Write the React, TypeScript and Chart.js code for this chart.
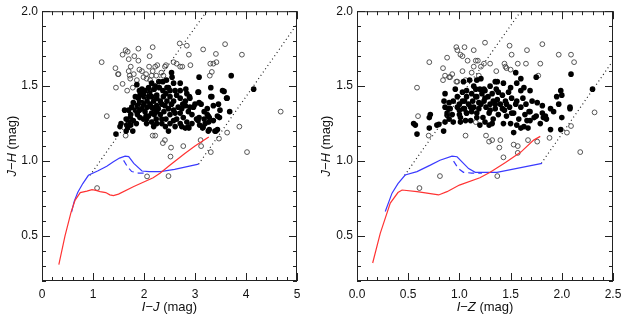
import React, { useEffect, useRef } from 'react';
import { Chart, registerables } from 'chart.js';
Chart.register(...registerables);

type P = [number, number];
type Seg = [string, boolean];

// ---------- Left panel: I-J vs J-H ----------
const ijOpen: P[] = [
  [1.17,1.66],[1.44,1.62],[1.45,1.49],[1.50,1.58],[1.58,1.71],[1.64,1.74],[1.68,1.73],[1.70,1.68],[1.67,1.47],[1.70,1.60],
  [1.72,1.57],[1.74,1.63],[1.81,1.70],[1.78,1.49],[1.80,1.58],[1.86,1.54],[1.89,1.75],[1.89,1.67],[1.91,1.61],[1.96,1.60],
  [1.99,1.56],[2.04,1.58],[2.05,1.55],[2.10,1.63],[2.11,1.70],[2.15,1.57],[2.17,1.76],[2.17,1.60],[2.22,1.63],[2.24,1.57],
  [2.26,1.64],[2.34,1.59],[2.38,1.57],[2.41,1.63],[2.43,1.64],[2.58,1.66],[2.64,1.65],[2.70,1.785],[2.84,1.77],[2.88,1.71],
  [2.91,1.64],[2.71,1.63],[2.75,1.63],[3.16,1.745],[3.30,1.65],[3.36,1.65],[3.42,1.66],[3.33,1.595],[3.29,1.57],[3.41,1.715],
  [3.59,1.78],[3.92,1.71],[1.58,1.515],[1.73,1.55],[1.49,1.58],[2.12,1.54],
  [1.27,1.30],[1.64,1.17],[1.08,0.82],[2.06,0.898],[2.48,0.90],[2.52,1.03],[2.53,1.09],[2.41,1.14],[2.37,1.12],[2.17,1.17],
  [2.22,1.17],[2.77,1.10],[3.11,1.14],[3.12,1.10],[3.31,1.06],[3.47,1.15],[3.63,1.19],[3.87,1.23],[4.02,1.06],[4.68,1.33],
  [2.18,1.26]
];
const ijFilled: P[] = [
  [1.45,1.18],[1.53,1.23],[1.55,1.25],[1.65,1.20],[1.66,1.24],[1.68,1.22],[1.74,1.24],[1.78,1.20],[1.62,1.34],[1.65,1.28],
  [1.74,1.31],[1.85,1.25],[1.86,1.51],[1.91,1.47],[1.96,1.48],[1.99,1.45],[2.00,1.43],[2.06,1.40],[2.11,1.45],[2.15,1.43],
  [2.20,1.48],[2.25,1.44],[2.29,1.53],[2.37,1.53],[2.44,1.54],[2.54,1.59],[2.55,1.56],[2.58,1.52],[2.45,1.49],[2.61,1.47],
  [2.71,1.47],[2.82,1.48],[2.89,1.43],[2.81,1.40],[3.08,1.56],[3.07,1.46],[3.31,1.49],[3.31,1.43],[3.54,1.47],[3.63,1.42],
  [3.71,1.57],[4.15,1.48],[3.36,1.37],[3.46,1.38],[3.24,1.35],[3.68,1.33],[3.08,1.39],[3.12,1.38],[2.90,1.36],[2.97,1.36],
  [2.87,1.33],[2.94,1.31],[2.77,1.29],[2.84,1.26],[2.94,1.25],[3.03,1.28],[3.08,1.29],[3.18,1.28],[3.24,1.31],[3.28,1.29],
  [3.27,1.26],[3.36,1.27],[3.44,1.30],[3.48,1.29],[3.28,1.21],[3.15,1.22],[3.41,1.20],[3.44,1.21],[2.88,1.22],[2.71,1.25],
  [2.61,1.23],[2.51,1.25],[2.42,1.23],[2.35,1.25],[2.24,1.28],[2.15,1.26],[2.05,1.25],[1.99,1.28],[1.92,1.29],[1.87,1.31],
  [1.83,1.34],[1.76,1.36],[1.70,1.34],[1.79,1.39],[1.87,1.37],[1.96,1.39],[2.06,1.36],[2.12,1.38],[2.19,1.35],[2.25,1.37],
  [2.32,1.40],[2.38,1.43],[2.45,1.40],[2.51,1.43],[2.58,1.40],[2.64,1.44],[2.71,1.42],[2.76,1.38],[2.67,1.36],[2.58,1.34],
  [2.48,1.35],[2.39,1.33],[2.32,1.31],[2.25,1.33],[2.15,1.32],[2.09,1.30],[2.02,1.33],[1.96,1.35],[1.89,1.42],[1.83,1.43],
  [1.92,1.44],[2.02,1.47],[2.09,1.49],[2.15,1.52],[2.22,1.50],[2.30,1.49],[2.37,1.47],[2.43,1.45],[2.51,1.47],[2.35,1.38],
  [2.41,1.37],[2.54,1.38],[2.61,1.32],[2.71,1.32],[2.51,1.31],[2.43,1.28],[2.35,1.28],[2.05,1.28],[1.79,1.27],[1.73,1.29],
  [1.70,1.26],[2.25,1.25],[2.19,1.23],[2.74,1.23],[2.81,1.22],[2.58,1.27],[2.64,1.28],[2.74,1.35],[2.81,1.37],[2.84,1.45],
  [1.99,1.38],[2.09,1.43],[2.19,1.40],[2.25,1.42],[2.28,1.35],[2.15,1.36],[2.04,1.30],[1.91,1.34],[2.20,1.31],[2.48,1.20],
  [1.91,1.39],[2.12,1.47],[2.48,1.49],[2.71,1.52],[3.00,1.38],[3.18,1.33],[3.20,1.25],[3.09,1.24],[3.49,1.34],[3.33,1.43],
  [3.62,1.42],[2.90,1.42],[3.06,1.46],[3.57,1.465],[3.26,1.30],[3.39,1.20],[3.26,1.20],[3.16,1.228],[3.06,1.27],[2.87,1.228]
];
const ijRed: P[] = [
  [0.33,0.31],[0.45,0.50],[0.57,0.66],[0.65,0.74],[0.75,0.79],[0.88,0.80],[0.98,0.81],[1.06,0.805],[1.14,0.796],[1.25,0.79],
  [1.33,0.775],[1.40,0.77],[1.50,0.78],[1.80,0.83],[2.18,0.889],[2.32,0.92],[2.50,0.97],[2.80,1.05],[3.00,1.10],[3.27,1.16]
];
const ijBlue: P[] = [
  [0.58,0.66],[0.63,0.73],[0.70,0.79],[0.80,0.85],[0.91,0.905],[1.10,0.935],[1.27,0.965],[1.40,0.995],[1.52,1.02],[1.63,1.033],
  [1.70,1.03],[1.80,0.985],[1.96,0.934],[2.10,0.93],[2.32,0.93],[2.60,0.945],[3.07,0.98]
];
const ijBlueDash: P[] = [[1.60,1.005],[1.68,0.96],[1.76,0.93],[1.89,0.92],[2.05,0.92]];
const ijDotA: P[] = [[0.94,0.905],[3.23,2.0]];
const ijDotB: P[] = [[3.07,0.98],[5.0,1.914]];
const ijXTicks = [0, 1, 2, 3, 4, 5];

// ---------- Right panel: I-Z vs J-H ----------
const izOpen: P[] = [
  [0.586,1.49],[0.596,1.30],[0.61,0.82],[0.706,1.66],[0.70,1.17],[0.81,0.90],[0.84,1.62],[0.84,1.54],[0.86,1.57],[0.90,1.56],
  [0.88,1.69],[0.91,1.56],[0.93,1.58],[0.97,1.76],[0.98,1.74],[0.97,1.53],[0.98,1.53],[1.01,1.71],[1.03,1.70],[1.03,1.60],
  [1.05,1.76],[1.06,1.54],[1.08,1.67],[1.12,1.59],[1.14,1.63],[1.14,1.74],[1.16,1.67],[1.18,1.67],[1.19,1.57],[1.21,1.63],
  [1.24,1.65],[1.25,1.79],[1.30,1.65],[1.36,1.60],[1.44,1.65],[1.45,1.63],[1.46,1.62],[1.49,1.77],[1.51,1.71],[1.50,1.61],
  [1.57,1.65],[1.66,1.74],[1.65,1.65],[1.77,1.57],[1.79,1.65],[1.81,1.78],[1.97,1.71],[2.09,1.71],[2.12,1.66],
  [1.06,1.17],[1.26,1.17],[1.29,1.13],[1.32,1.14],[1.39,1.09],[1.40,1.14],[1.43,1.025],[1.53,1.11],[1.57,1.10],[1.57,1.055],
  [1.67,1.14],[1.76,1.13],[1.88,1.155],[2.05,1.19],[2.09,1.234],[2.18,1.06],[2.32,1.325],[1.37,0.90],[1.16,1.26]
];
const izFilled: P[] = [
  [0.553,1.25],[0.57,1.24],[0.586,1.18],[0.706,1.22],[0.706,1.29],[0.716,1.31],[0.78,1.24],[0.80,1.245],[0.846,1.20],[0.86,1.26],
  [0.88,1.305],[0.895,1.35],[1.01,1.26],[0.86,1.45],[0.85,1.40],[0.86,1.36],[0.88,1.32],[0.90,1.39],[0.91,1.35],[0.93,1.31],
  [0.94,1.40],[0.96,1.48],[0.98,1.43],[0.98,1.36],[1.01,1.29],[1.03,1.40],[1.03,1.46],[1.04,1.53],[1.05,1.35],[1.07,1.43],
  [1.07,1.47],[1.09,1.38],[1.10,1.54],[1.11,1.27],[1.12,1.45],[1.13,1.40],[1.14,1.36],[1.16,1.48],[1.17,1.32],[1.17,1.43],
  [1.19,1.39],[1.19,1.35],[1.20,1.48],[1.21,1.55],[1.22,1.45],[1.23,1.29],[1.24,1.40],[1.25,1.47],[1.26,1.36],[1.28,1.43],
  [1.29,1.32],[1.30,1.38],[1.32,1.45],[1.33,1.28],[1.33,1.40],[1.35,1.35],[1.36,1.48],[1.37,1.41],[1.37,1.53],[1.38,1.31],
  [1.40,1.38],[1.42,1.44],[1.43,1.25],[1.44,1.34],[1.45,1.40],[1.46,1.30],[1.48,1.46],[1.49,1.36],[1.50,1.25],[1.51,1.42],
  [1.53,1.32],[1.55,1.59],[1.55,1.38],[1.56,1.24],[1.58,1.28],[1.60,1.55],[1.60,1.47],[1.60,1.36],[1.62,1.42],[1.63,1.23],
  [1.64,1.31],[1.65,1.38],[1.67,1.22],[1.68,1.33],[1.69,1.27],[1.71,1.40],[1.73,1.29],[1.75,1.56],[1.76,1.39],[1.75,1.30],
  [1.79,1.25],[1.81,1.37],[1.82,1.29],[1.84,1.30],[1.85,1.28],[1.89,1.21],[1.89,1.35],[1.92,1.33],[1.95,1.43],[1.97,1.38],
  [1.99,1.47],[2.00,1.44],[1.99,1.21],[2.00,1.29],[2.08,1.36],[2.08,1.35],[2.09,1.58],[2.30,1.48],[1.17,1.29],[1.25,1.26],
  [1.32,1.25],[1.07,1.32],[1.00,1.34],[0.94,1.26],[0.90,1.28],[1.14,1.50],[1.17,1.54],[1.24,1.48],[1.30,1.50],[1.35,1.53],
  [1.43,1.52],[1.50,1.49],[1.56,1.52],[1.63,1.49],[1.69,1.47],[1.53,1.19],[1.60,1.22],[1.42,1.35],[1.29,1.24],[1.20,1.24],
  [1.12,1.33],[1.06,1.27],[1.00,1.38],[1.05,1.40],[1.11,1.36],[1.16,1.43],[1.21,1.38],[1.25,1.42],[1.30,1.34],[1.35,1.38],
  [1.38,1.46],[1.46,1.38],[1.51,1.32],[1.56,1.40],[1.66,1.27],[1.69,1.33],[1.81,1.32],[1.00,1.31],[1.04,1.35],[1.07,1.32]
];
const izRed: P[] = [
  [0.153,0.32],[0.227,0.518],[0.325,0.72],[0.40,0.79],[0.44,0.807],[0.586,0.796],[0.70,0.785],[0.797,0.774],[0.879,0.796],
  [1.00,0.84],[1.20,0.889],[1.30,0.925],[1.45,0.99],[1.60,1.06],[1.725,1.14],[1.79,1.165]
];
const izBlue: P[] = [
  [0.276,0.664],[0.342,0.786],[0.40,0.85],[0.47,0.907],[0.586,0.93],[0.716,0.973],[0.81,1.006],[0.928,1.033],[0.977,1.029],
  [1.09,0.95],[1.155,0.925],[1.367,0.925],[1.807,0.985]
];
const izBlueDash: P[] = [[0.943,1.0],[0.99,0.95],[1.04,0.925],[1.12,0.92],[1.22,0.92]];
const izDotA: P[] = [[0.465,0.905],[1.60,2.0]];
const izDotB: P[] = [[1.80,0.985],[2.5,1.67]];
const izXTicks = [0, 0.5, 1.0, 1.5, 2.0, 2.5];

const yTicks = [0.5, 1.0, 1.5, 2.0];

const ijXTitle: Seg[] = [['I', true], ['\u2212', false], ['J', true], [' (mag)', false]];
const izXTitle: Seg[] = [['I', true], ['\u2212', false], ['Z', true], [' (mag)', false]];
const yTitle: Seg[] = [['J', true], ['\u2212', false], ['H', true], [' (mag)', false]];

const FONT = '"Liberation Sans", Arial, sans-serif';

interface PanelCfg {
  open: P[]; filled: P[]; red: P[]; blue: P[]; blueDash: P[]; dotA: P[]; dotB: P[];
  xMax: number; xTicks: number[]; xMinor: number; xFmt: (v: number) => string;
  xTitle: Seg[]; yAxisW: number; padRight: number;
}

function drawSegs(ctx: CanvasRenderingContext2D, segs: Seg[], cx: number, cy: number, size: number) {
  const fonts = segs.map(([, it]) => `${it ? 'italic ' : ''}${size}px ${FONT}`);
  let total = 0;
  const widths = segs.map(([t], i) => { ctx.font = fonts[i]; const w = ctx.measureText(t).width; total += w; return w; });
  let x = cx - total / 2;
  ctx.textAlign = 'left';
  ctx.textBaseline = 'alphabetic';
  segs.forEach(([t], i) => { ctx.font = fonts[i]; ctx.fillText(t, x, cy); x += widths[i]; });
}

function makeFrame(cfg: PanelCfg) {
  return {
    id: 'frame',
    afterDraw(chart: any) {
      const { ctx, chartArea: a, scales } = chart;
      const xs = scales.x, ys = scales.y;
      ctx.save();
      ctx.strokeStyle = '#222';
      ctx.lineWidth = 1;
      ctx.strokeRect(a.left + 0.5, a.top + 0.5, a.right - a.left - 1, a.bottom - a.top - 1);
      ctx.beginPath();
      const xMin = xs.min, xMaxV = xs.max;
      const nx = Math.round((xMaxV - xMin) / cfg.xMinor);
      for (let i = 0; i <= nx; i++) {
        const v = xMin + i * cfg.xMinor;
        const major = cfg.xTicks.some(t => Math.abs(t - v) < 1e-6);
        const len = major ? 8 : 4;
        const px = Math.round(xs.getPixelForValue(v)) + 0.5;
        ctx.moveTo(px, a.bottom); ctx.lineTo(px, a.bottom - len);
        ctx.moveTo(px, a.top); ctx.lineTo(px, a.top + len);
      }
      const ny = Math.round((ys.max - ys.min) / 0.1);
      for (let i = 0; i <= ny; i++) {
        const v = ys.min + i * 0.1;
        const major = yTicks.some(t => Math.abs(t - v) < 1e-6);
        const len = major ? 8 : 4;
        const py = Math.round(ys.getPixelForValue(v)) + 0.5;
        ctx.moveTo(a.left, py); ctx.lineTo(a.left + len, py);
        ctx.moveTo(a.right, py); ctx.lineTo(a.right - len, py);
      }
      ctx.stroke();
      ctx.fillStyle = '#111';
      drawSegs(ctx, cfg.xTitle, (a.left + a.right) / 2, 311, 13);
      ctx.translate(16, (a.top + a.bottom) / 2);
      ctx.rotate(-Math.PI / 2);
      drawSegs(ctx, yTitle, 0, 0, 13);
      ctx.restore();
    }
  };
}

const pts = (arr: P[]) => arr.map(([x, y]) => ({ x, y }));

function Panel({ left, width, cfg }: { left: number; width: number; cfg: PanelCfg }) {
  const ref = useRef<HTMLCanvasElement>(null);
  useEffect(() => {
    const lineDs = (data: P[], color: string, dash: number[], w: number) => ({
      data: pts(data), showLine: true, borderColor: color, borderWidth: w, borderDash: dash,
      pointRadius: 0, pointHoverRadius: 0, fill: false, tension: 0,
    });
    const chart = new Chart(ref.current as HTMLCanvasElement, {
      type: 'scatter',
      data: {
        datasets: [
          lineDs(cfg.red, '#ff3333', [], 1.2),
          lineDs(cfg.blue, '#3a3aff', [], 1.2),
          lineDs(cfg.blueDash, '#3a3aff', [6, 4], 1.2),
          lineDs(cfg.dotA, '#222', [1, 3], 1.2),
          lineDs(cfg.dotB, '#222', [1, 3], 1.2),
          {
            data: pts(cfg.filled), showLine: false, pointRadius: 2.8, pointBackgroundColor: '#000',
            pointBorderColor: '#000', pointBorderWidth: 0,
          },
          {
            data: pts(cfg.open), showLine: false, pointRadius: 2.4, pointBackgroundColor: 'rgba(0,0,0,0)',
            pointBorderColor: '#444', pointBorderWidth: 0.9,
          },
        ] as any,
      },
      options: {
        animation: false,
        responsive: false,
        maintainAspectRatio: false,
        events: [],
        layout: { padding: { left: 0, right: cfg.padRight, top: 10, bottom: 0 } },
        plugins: { legend: { display: false }, tooltip: { enabled: false } },
        scales: {
          x: {
            type: 'linear', min: 0, max: cfg.xMax,
            afterBuildTicks: (s: any) => { s.ticks = cfg.xTicks.map(v => ({ value: v })); },
            afterFit: (s: any) => { s.height = 34; },
            ticks: {
              callback: (v: any) => cfg.xFmt(Number(v)), autoSkip: false, maxRotation: 0,
              font: { family: FONT, size: 12 }, color: '#111', padding: 6,
            },
            grid: { display: false, drawTicks: false },
            border: { display: false },
          },
          y: {
            type: 'linear', min: 0.2, max: 2.0,
            afterBuildTicks: (s: any) => { s.ticks = yTicks.map(v => ({ value: v })); },
            afterFit: (s: any) => { s.width = cfg.yAxisW; },
            ticks: {
              callback: (v: any) => Number(v).toFixed(1), autoSkip: false,
              font: { family: FONT, size: 12 }, color: '#111', padding: 4,
            },
            grid: { display: false, drawTicks: false },
            border: { display: false },
          },
        },
      } as any,
      plugins: [makeFrame(cfg)],
    });
    return () => chart.destroy();
  }, []);
  return (
    <canvas ref={ref} width={width} height={315}
      style={{ position: 'absolute', left, top: 0, width, height: 315 }} />
  );
}

const leftCfg: PanelCfg = {
  open: ijOpen, filled: ijFilled, red: ijRed, blue: ijBlue, blueDash: ijBlueDash, dotA: ijDotA, dotB: ijDotB,
  xMax: 5, xTicks: ijXTicks, xMinor: 0.2, xFmt: v => String(Math.round(v)), xTitle: ijXTitle, yAxisW: 42, padRight: 17,
};
const rightCfg: PanelCfg = {
  open: izOpen, filled: izFilled, red: izRed, blue: izBlue, blueDash: izBlueDash, dotA: izDotA, dotB: izDotB,
  xMax: 2.5, xTicks: izXTicks, xMinor: 0.1, xFmt: v => v.toFixed(1), xTitle: izXTitle, yAxisW: 43, padRight: 16,
};

export default function App() {
  return (
    <div style={{ position: 'absolute', left: 0, top: 0, width: 629, height: 315, background: '#fff', overflow: 'hidden' }}>
      <Panel left={0} width={314} cfg={leftCfg} />
      <Panel left={314} width={315} cfg={rightCfg} />
    </div>
  );
}
